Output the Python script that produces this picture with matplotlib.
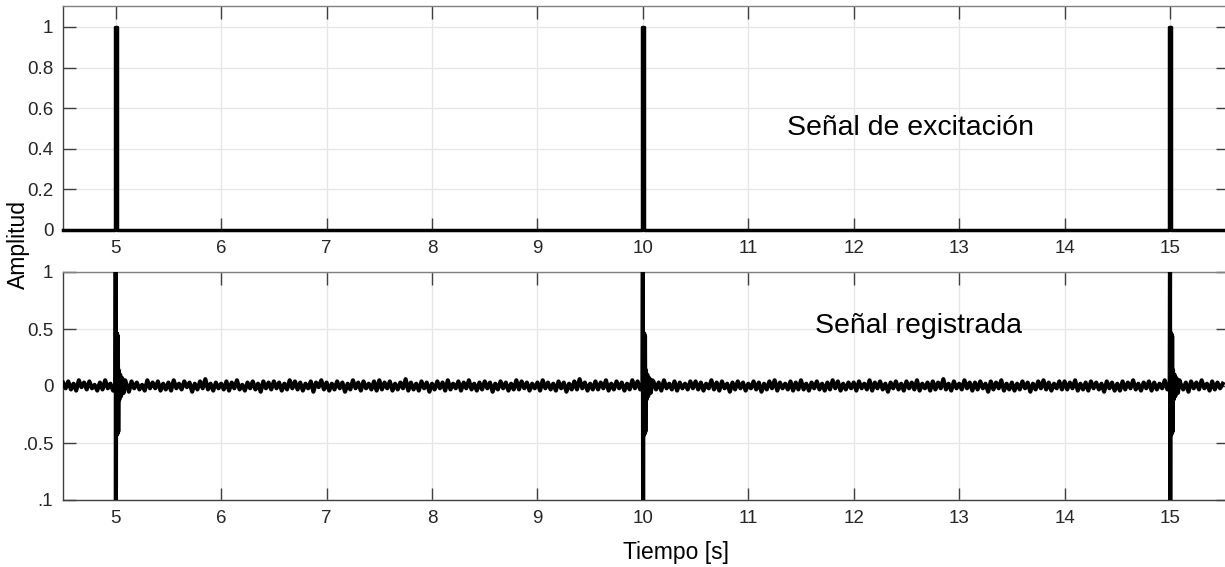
"""
Excitation pulses and recorded response, two stacked panels
"""

import numpy as np
import matplotlib
matplotlib.use('Agg')
import matplotlib.pyplot as plt

plt.rcParams['font.family'] = ['Liberation Sans', 'DejaVu Sans']

# ── Data ───────────────────────────────────────────────────────
pulse_times = [5.0, 10.0, 15.0]
pulse_amp = [1.0, 1.0, 1.0]
pulse_width = 0.02

# background noise of the recorded signal in units of 0.01,
# one row per half second (dt = 0.025 s starting at 4.5 s)
noise_t0 = 4.5
noise_dt = 0.025
noise_unit = 0.01
noise_rows = [
    [3, -2, 4, -3, 2, -4, 5, -1, 3, -3, 4, -2, 1, -4, 3, -3, 5, -2, 2, -4],
    [4, -3, 2, -1, 3, -5, 4, -2, 3, -3, 1, -4, 5, -2, 3, -2, 4, -4, 2, -3],
    [3, -4, 5, -2, 2, -3, 4, -1, 3, -5, 2, -3, 4, -2, 6, -3, 2, -4, 3, -2],
    [2, -3, 4, -4, 3, -2, 5, -3, 1, -4, 3, -2, 4, -3, 2, -5, 4, -2, 3, -3],
    [4, -2, 3, -4, 2, -3, 5, -2, 4, -3, 3, -4, 2, -2, 4, -5, 3, -1, 5, -3],
    [3, -4, 2, -3, 4, -2, 3, -5, 2, -3, 5, -2, 3, -4, 4, -2, 2, -3, 4, -4],
    [5, -3, 3, -2, 4, -4, 2, -3, 3, -2, 6, -4, 3, -3, 2, -4, 4, -2, 3, -5],
    [2, -3, 4, -2, 3, -4, 5, -3, 2, -2, 4, -4, 3, -2, 5, -3, 2, -4, 3, -3],
    [4, -2, 3, -5, 2, -3, 4, -2, 3, -4, 2, -3, 5, -3, 4, -2, 3, -4, 2, -2],
    [3, -4, 5, -2, 3, -3, 2, -4, 4, -2, 3, -5, 2, -3, 4, -3, 6, -2, 3, -4],
    [2, -3, 4, -3, 3, -2, 5, -4, 2, -3, 4, -2, 3, -4, 2, -3, 5, -2, 4, -3],
    [3, -5, 2, -2, 4, -3, 3, -4, 5, -2, 2, -3, 4, -4, 3, -2, 2, -3, 4, -2],
    [4, -3, 3, -4, 2, -2, 5, -3, 3, -4, 4, -2, 2, -5, 3, -3, 4, -2, 3, -4],
    [2, -2, 4, -3, 3, -5, 2, -3, 4, -2, 5, -4, 3, -2, 2, -3, 4, -4, 3, -3],
    [5, -3, 2, -4, 3, -2, 4, -3, 2, -4, 3, -3, 5, -2, 4, -4, 2, -3, 3, -2],
    [3, -4, 4, -2, 2, -3, 5, -4, 3, -2, 4, -3, 2, -5, 3, -2, 4, -3, 2, -4],
    [4, -2, 3, -3, 5, -4, 2, -2, 3, -4, 4, -3, 3, -2, 6, -3, 2, -4, 4, -2],
    [2, -3, 5, -2, 3, -4, 3, -3, 4, -2, 2, -5, 4, -3, 3, -2, 5, -4, 2, -3],
    [3, -4, 2, -3, 4, -2, 3, -5, 2, -3, 4, -2, 5, -3, 3, -4, 2, -2, 4, -3],
    [4, -3, 3, -2, 5, -4, 2, -3, 3, -4, 4, -2, 3, -3, 2, -5, 4, -2, 3, -4],
    [2, -4, 4, -3, 3, -2, 5, -3, 2, -4, 3, -2, 4, -4, 3, -3, 2, -2, 5, -3],
    [3, -2, 4, -4, 2, -3, 3, -5, 4, -2, 3, -3, 5, -2, 2, -4, 4, -3, 3, -2],
    [2],
]

# response around each pulse: time offset [s] and amplitude
resp_dt = [-0.003, 0.0, 0.002, 0.004, 0.008, 0.012, 0.016, 0.020, 0.024, 0.028,
           0.034, 0.042, 0.050, 0.060, 0.075, 0.090]
resp_val = [0.0, 1.05, -1.05, 0.47, -0.43, 0.46, -0.42, 0.44, -0.40, 0.14,
            -0.12, 0.10, -0.09, 0.07, -0.06, 0.05]
resp_span = (-0.005, 0.1)

x_lim = (4.5, 15.55)
x_ticks = list(range(5, 16))
top_yticks = [0, 0.2, 0.4, 0.6, 0.8, 1]
top_yticklabels = ['0', '0.2', '0.4', '0.6', '0.8', '1']
bot_yticks = [-1, -0.5, 0, 0.5, 1]
bot_yticklabels = ['.1', '.0.5', '0', '0.5', '1']

# ── Build signals ──────────────────────────────────────────────
exc_t = [x_lim[0]]
exc_v = [0.0]
for p, a in zip(pulse_times, pulse_amp):
    exc_t += [p - pulse_width / 2, p - pulse_width / 2, p + pulse_width / 2, p + pulse_width / 2]
    exc_v += [0.0, a, a, 0.0]
exc_t.append(x_lim[1])
exc_v.append(0.0)

noise_v = np.concatenate([np.array(r, dtype=float) for r in noise_rows]) * noise_unit
noise_t = noise_t0 + noise_dt * np.arange(len(noise_v))

keep = np.ones(len(noise_t), dtype=bool)
for p in pulse_times:
    keep &= ~((noise_t >= p + resp_span[0]) & (noise_t <= p + resp_span[1]))
rec_t = list(noise_t[keep])
rec_v = list(noise_v[keep])
for p in pulse_times:
    rec_t += [p + d for d in resp_dt]
    rec_v += resp_val
order = np.argsort(rec_t, kind='stable')
rec_t = np.array(rec_t)[order]
rec_v = np.array(rec_v)[order]

# ── Figure ─────────────────────────────────────────────────────
W, H = 1225, 567
fig = plt.figure(figsize=(W / 100, H / 100), dpi=100)

left = 63 / W
width = (1228 - 63) / W
ax1 = fig.add_axes([left, (H - 230) / H, width, 224 / H])
ax2 = fig.add_axes([left, (H - 500) / H, width, 228 / H])


def style(ax):
    ax.set_xlim(*x_lim)
    ax.set_xticks(x_ticks)
    ax.grid(True, color='#e6e6e6', linewidth=1.0)
    ax.set_axisbelow(True)
    ax.tick_params(direction='in', length=9, width=1, colors='#404040',
                   labelcolor='#262626', labelsize=13.5, top=True, right=True, pad=7)
    for side in ['left', 'bottom', 'right']:
        ax.spines[side].set_color('#404040')
    ax.spines['top'].set_color('#808080')
    for sp in ax.spines.values():
        sp.set_linewidth(1.0)


style(ax1)
ax1.plot(exc_t, exc_v, color='black', linewidth=2.5, clip_on=False, zorder=3)
ax1.set_ylim(0, 1.103)
ax1.set_yticks(top_yticks)
ax1.set_yticklabels(top_yticklabels)
ax1.text(11.37, 0.468, 'Señal de excitación', fontsize=20.5, ha='left', va='baseline')

style(ax2)
ax2.plot(rec_t, rec_v, color='black', linewidth=3.0, zorder=3)
ax2.set_ylim(-1, 1)
ax2.set_yticks(bot_yticks)
ax2.set_yticklabels(bot_yticklabels)
ax2.text(11.63, 0.465, 'Señal registrada', fontsize=20.5, ha='left', va='baseline')

fig.text(18 / W, 1 - 245 / H, 'Amplitud', rotation=90, fontsize=16.5,
         ha='center', va='center')
fig.text(676 / W, 1 - 552 / H, 'Tiempo [s]', fontsize=16.5, ha='center', va='center')

plt.savefig('out.png', dpi=100)
plt.close()
